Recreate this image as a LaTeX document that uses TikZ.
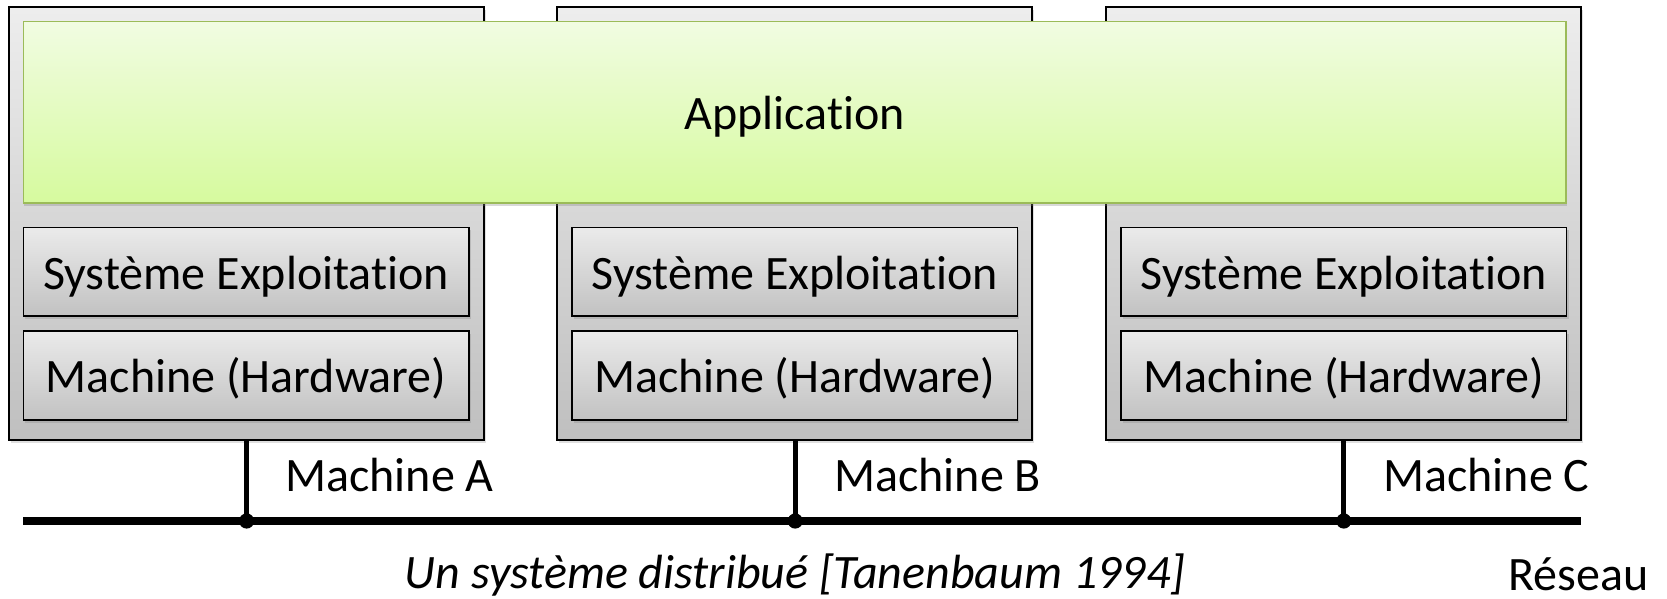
\documentclass[tikz,border=0pt]{standalone}
\usepackage{fontspec}
\setmainfont[Ligatures={NoCommon,NoRequired,NoContextual}]{Carlito}
\usetikzlibrary{shadows,calc}
\definecolor{appborder}{HTML}{9BBB59}
\definecolor{apptop}{HTML}{F1FCE2}
\definecolor{appbot}{HTML}{D6FA9E}
\newcommand{\sysexp}{Système Exploitat\kern0pt ion}
\tikzset{
  outerbox/.style={draw=black, line width=1pt, top color=black!7, bottom color=black!25,
    minimum width=237.6pt, minimum height=216.3pt, inner sep=0pt,
    drop shadow={opacity=0.25, shadow xshift=1pt, shadow yshift=-1.5pt}},
  appbox/.style={draw=appborder, line width=0.8pt, top color=apptop, bottom color=appbot,
    minimum width=771.3pt, minimum height=90.85pt, inner sep=0pt, font=\fontsize{24}{28}\selectfont,
    text height=20pt, text depth=3pt,
    drop shadow={opacity=0.3, shadow xshift=0.5pt, shadow yshift=-1.5pt}},
  layerbox/.style={draw=black, line width=0.9pt, top color=black!8, bottom color=black!24,
    minimum width=222.7pt, inner sep=0pt, font=\fontsize{24}{28}\selectfont,
    text height=20pt, text depth=2.6pt,
    drop shadow={opacity=0.3, shadow xshift=1pt, shadow yshift=-1.5pt}},
  junction/.style={circle, fill=black, inner sep=0pt, minimum size=7.6pt},
  label/.style={font=\fontsize{24}{28}\selectfont, inner sep=0pt},
  wire/.style={line width=2.5pt},
  bus/.style={line width=4pt},
}
\begin{document}
\begin{tikzpicture}[x=0.5pt, y=-0.5pt]
\useasboundingbox (0,0) rectangle (1667,599);
% machines
\node[outerbox] (A) at (246.1,223.7) {};
\node[outerbox] (B) at (794.7,223.7) {};
\node[outerbox] (C) at (1343.2,223.7) {};
% application
\node[appbox] (app) at (794.7,112.2) {Application};
% layers
\node[layerbox, minimum height=44.1pt] (seA) at (246.1,271.6) {\sysexp};
\node[layerbox, minimum height=44.1pt] (seB) at (794.7,271.6) {\sysexp};
\node[layerbox, minimum height=44.1pt] (seC) at (1343.8,271.6) {\sysexp};
\node[layerbox, minimum height=44.7pt] (mhA) at (246.1,375.3) {Machine (Hardware)};
\node[layerbox, minimum height=44.7pt] (mhB) at (794.7,375.3) {Machine (Hardware)};
\node[layerbox, minimum height=44.7pt] (mhC) at (1343.8,375.3) {Machine (Hardware)};
% network
\coordinate (busL) at (23.4,521);
\coordinate (busR) at (1580.8,521);
\draw[bus] (busL) -- (busR);
\node[junction] (jA) at (246.6,521) {};
\node[junction] (jB) at (795.2,521) {};
\node[junction] (jC) at (1343.8,521) {};
\draw[wire] (A.south -| jA) -- (jA.center);
\draw[wire] (B.south -| jB) -- (jB.center);
\draw[wire] (C.south -| jC) -- (jC.center);
% labels
\node[label, anchor=west] (labA) at (285,475) {Machine A};
\node[label, anchor=west] (labB) at (834,475) {Machine B};
\node[label, anchor=west] (labC) at (1383,475) {Machine C};
\node[label] (cap) at (795,575) {\itshape Un système distribué [Tanenbaum 1994]};
\node[label, anchor=west] (res) at (1508,574) {Réseau};
\end{tikzpicture}
\end{document}
